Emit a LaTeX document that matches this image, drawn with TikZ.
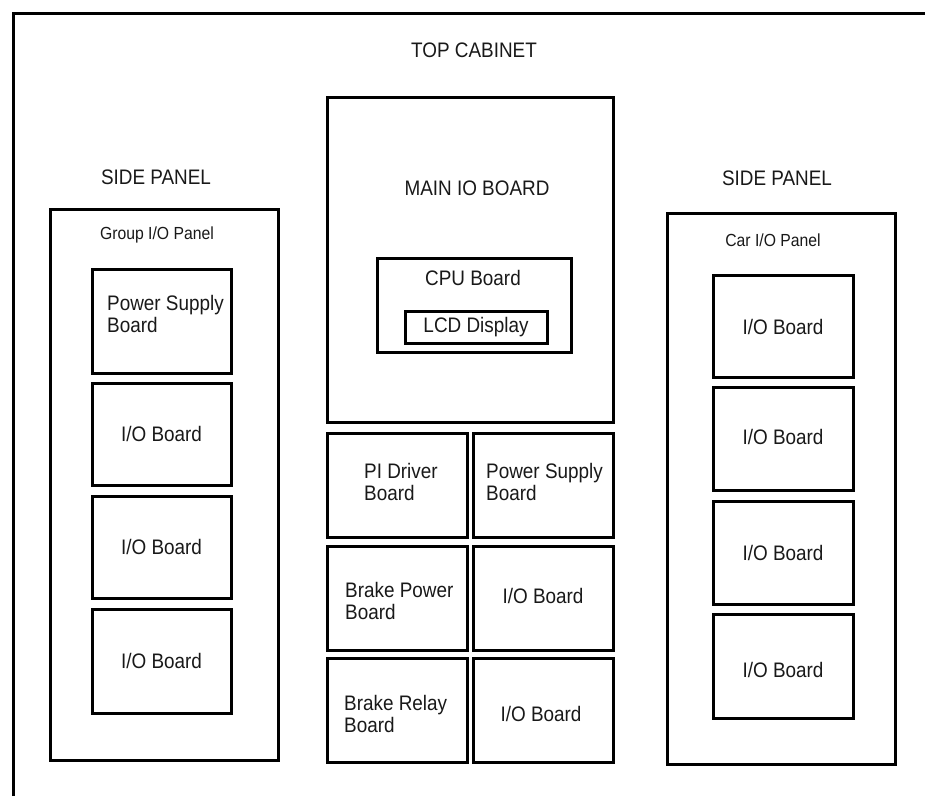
\documentclass[tikz,border=0pt]{standalone}
\usepackage{fontspec}
\setmainfont{Liberation Sans}[FakeStretch=0.9]
\begin{document}
\begin{tikzpicture}[x=1pt,y=-1pt,
  box/.style={draw=black,line width=3pt,rectangle,inner sep=0pt,outer sep=0pt},
  lbl/.style={font=\fontsize{21}{22}\selectfont,text=black!90,inner sep=0pt},
  small/.style={font=\fontsize{17.5}{19}\selectfont,text=black!90,inner sep=0pt},
  ml/.style={lbl,align=left,anchor=west}]
\useasboundingbox (0,0) rectangle (925,796);
\fill[white] (0,0) rectangle (925,796);
% outer frame (only top and left visible)
\coordinate (fb) at (13,796);
\coordinate (ftl) at (13,13);
\coordinate (ftr) at (925,13);
\draw[line width=3pt] (fb) -- (ftl) -- (ftr);
\node[lbl] (top) at (474,50) {TOP CABINET};
% left side panel
\node[lbl] (sideL) at (156,177) {SIDE PANEL};
\node[box,minimum width=228,minimum height=551] (lpanel) at (164,484.5) {};
\node[small] (grp) at (157,235) {Group I/O Panel};
\node[box,minimum width=139,minimum height=104] (lps) at (161.5,321) {};
\node[ml] (lpst) at (107,314) {Power Supply\\Board};
\node[box,minimum width=139,minimum height=102] (lio1) at (161.5,434) {};
\node[lbl] at (lio1) {I/O Board};
\node[box,minimum width=139,minimum height=102] (lio2) at (161.5,547) {};
\node[lbl] at (lio2) {I/O Board};
\node[box,minimum width=139,minimum height=104] (lio3) at (161.5,661) {};
\node[lbl] at (lio3) {I/O Board};
% main IO board
\node[box,minimum width=286,minimum height=325] (main) at (470,259.5) {};
\node[lbl] (maint) at (477,188) {MAIN IO BOARD};
\node[box,minimum width=194,minimum height=94] (cpu) at (474,305) {};
\node[lbl] (cput) at (473,278) {CPU Board};
\node[box,minimum width=142,minimum height=32] (lcd) at (476,327) {};
\node[lbl] at (lcd) {LCD Display};
% bottom grid
\node[box,minimum width=140,minimum height=104] (pi) at (397,485) {};
\node[ml] at (364,482) {PI Driver\\Board};
\node[box,minimum width=140,minimum height=104] (cps) at (543,485) {};
\node[ml] at (486,482) {Power Supply\\Board};
\node[box,minimum width=140,minimum height=104] (bp) at (397,598) {};
\node[ml] at (345,601) {Brake Power\\Board};
\node[box,minimum width=140,minimum height=104] (cio1) at (543,598) {};
\node[lbl] at (543,596) {I/O Board};
\node[box,minimum width=140,minimum height=104] (br) at (397,710) {};
\node[ml] at (344,714) {Brake Relay\\Board};
\node[box,minimum width=140,minimum height=104] (cio2) at (543,710) {};
\node[lbl] at (541,714) {I/O Board};
% right side panel
\node[lbl] (sideR) at (777,178) {SIDE PANEL};
\node[box,minimum width=228,minimum height=551] (rpanel) at (781,488.5) {};
\node[small] (car) at (773,240) {Car I/O Panel};
\node[box,minimum width=140,minimum height=102] (rio1) at (783,326) {};
\node[lbl] at (783,327) {I/O Board};
\node[box,minimum width=140,minimum height=103] (rio2) at (783,438.5) {};
\node[lbl] at (783,437) {I/O Board};
\node[box,minimum width=140,minimum height=103] (rio3) at (783,552.5) {};
\node[lbl] at (783,553) {I/O Board};
\node[box,minimum width=140,minimum height=104] (rio4) at (783,666) {};
\node[lbl] at (783,670) {I/O Board};
\end{tikzpicture}
\end{document}
